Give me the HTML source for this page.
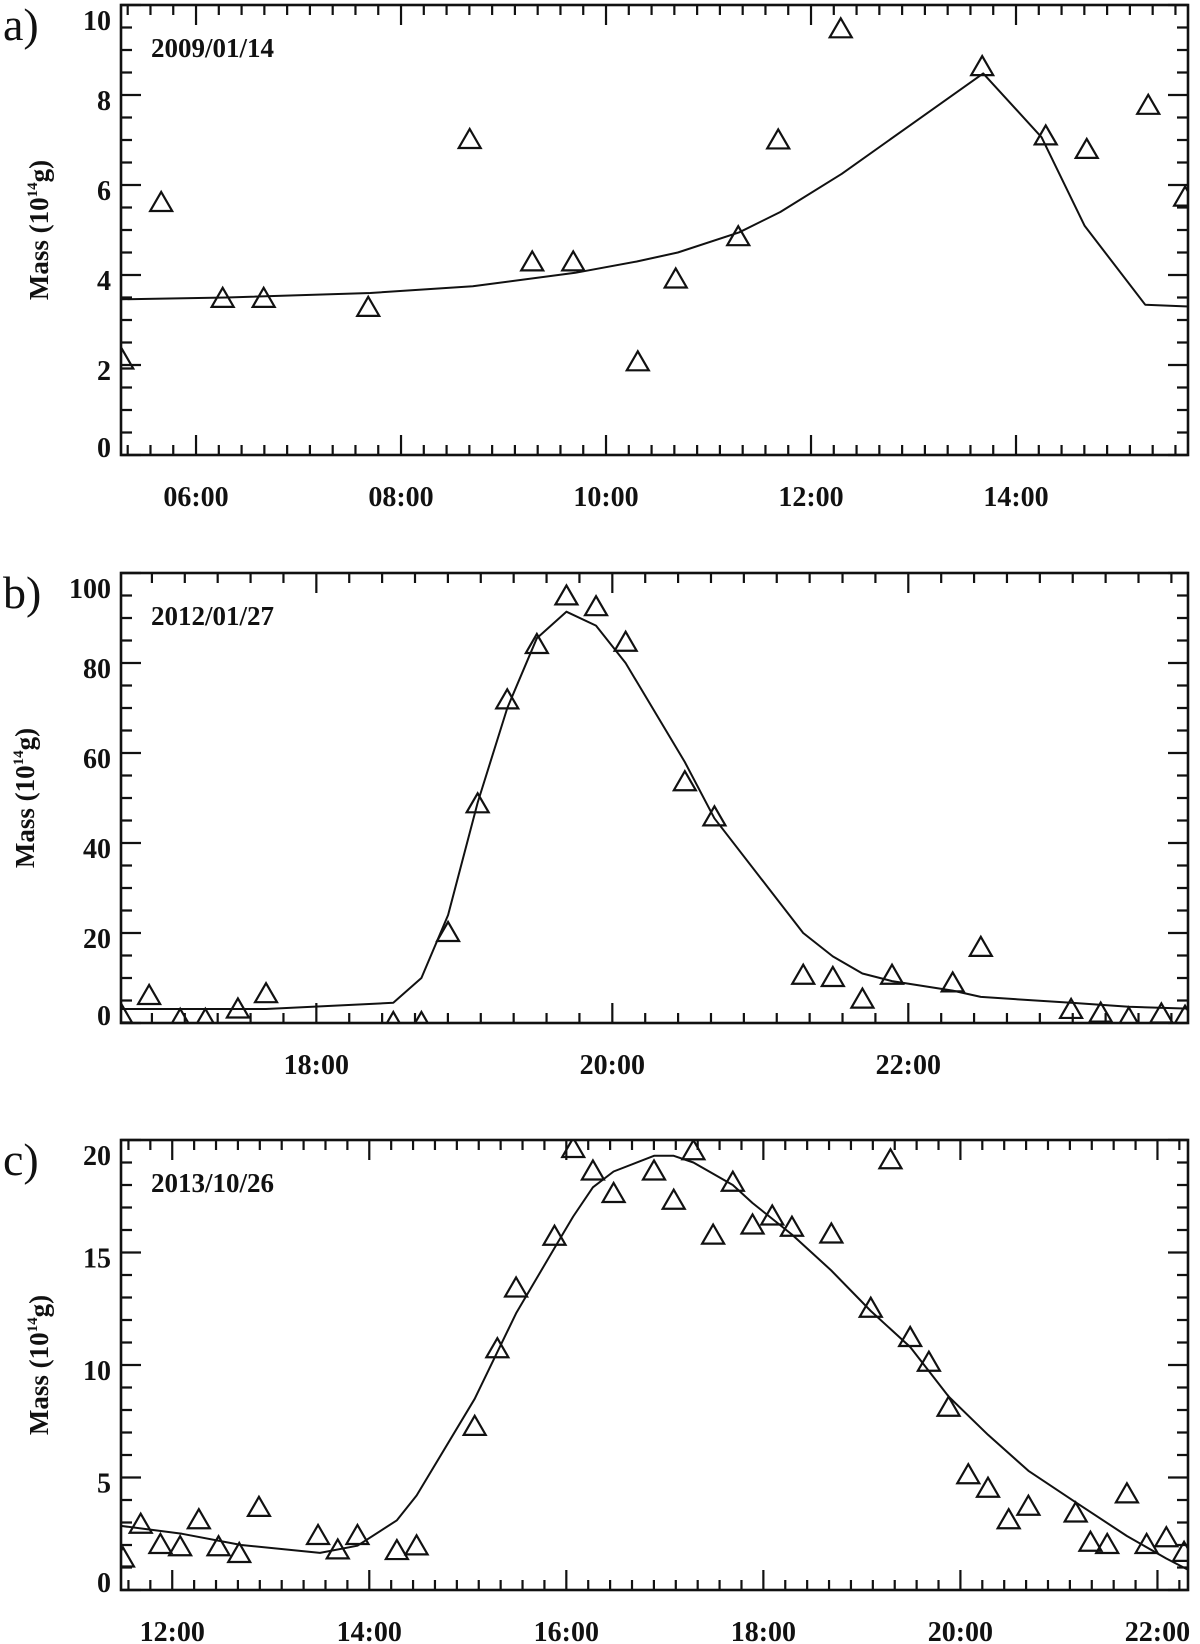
<!DOCTYPE html>
<html><head><meta charset="utf-8"><style>
html,body{margin:0;padding:0;background:#fff;}
svg{display:block;}
text{font-family:"Liberation Serif",serif;fill:#111;}
</style></head><body>
<svg id="fig" width="1200" height="1644" viewBox="0 0 1200 1644" xmlns="http://www.w3.org/2000/svg"></svg>
<script>
// Panel a data (2009/01/14): hours, mass 10^14 g
const aObsT = [5.28,5.66,6.26,6.66,7.68,8.67,9.28,9.68,10.31,10.68,11.29,11.68,12.29,13.67,14.29,14.69,15.29,15.65];
const aObsV = [2.1,5.6,3.47,3.47,3.27,7.0,4.28,4.28,2.06,3.9,4.84,6.99,9.46,8.62,7.08,6.78,7.76,5.72];
const aFitT = [5.27,6.3,7.7,8.7,9.7,10.3,10.7,11.3,11.7,12.3,13.68,14.25,14.67,15.26,15.68];
const aFitV = [3.46,3.5,3.6,3.75,4.05,4.3,4.5,4.95,5.4,6.25,8.48,7.06,5.09,3.34,3.3];
const aYTicks = [0,2,4,6,8,10];
const aXTicks = [6,8,10,12,14];
const aXLabels = ["06:00","08:00","10:00","12:00","14:00"];

// Panel b data (2012/01/27)
const bObsT = [16.68,16.87,17.08,17.25,17.47,17.66,18.52,18.71,18.89,19.09,19.29,19.49,19.69,19.89,20.09,20.49,20.69,21.29,21.49,21.69,21.89,22.30,22.49,23.10,23.30,23.49,23.71,23.87];
const bObsV = [1.9,6,0.7,0.7,3,6.4,0,0,20,48.6,71.7,84,94.8,92.4,84.5,53.5,45.7,10.5,10,5.2,10.5,8.8,16.7,2.9,2.1,1,1.9,1.4];
const bFitT = [16.68,17.66,18.52,18.71,18.89,19.09,19.29,19.49,19.69,19.89,20.09,20.49,20.69,21.29,21.49,21.69,21.89,22.3,22.49,23.1,23.49,23.89];
const bFitV = [3.1,3.1,4.5,10,24,49,70,85.5,91.4,88.3,80,58,45.5,20,14.8,11,9.3,7.2,5.8,4.5,3.6,3.2];
const bYTicks = [0,20,40,60,80,100];
const bXTicks = [18,20,22];
const bXLabels = ["18:00","20:00","22:00"];

// Panel c data (2013/10/26)
const cObsT = [11.50,11.68,11.88,12.08,12.27,12.47,12.68,12.88,13.48,13.68,13.88,14.28,14.48,15.07,15.30,15.49,15.88,16.07,16.27,16.48,16.89,17.09,17.29,17.49,17.69,17.89,18.09,18.29,18.69,19.09,19.29,19.49,19.68,19.88,20.08,20.28,20.49,20.69,21.17,21.32,21.49,21.69,21.89,22.09,22.27];
const cObsV = [1.4,2.9,2.0,1.9,3.1,1.9,1.6,3.65,2.4,1.76,2.4,1.73,1.94,7.25,10.7,13.4,15.7,19.6,18.6,17.6,18.6,17.3,19.5,15.75,18.1,16.2,16.6,16.1,15.8,12.5,19.1,11.2,10.1,8.1,5.1,4.5,3.1,3.7,3.4,2.1,2.0,4.25,2.0,2.3,1.65];
const cFitT = [11.48,12.1,12.7,13.5,13.88,14.28,14.48,15.07,15.49,15.88,16.07,16.27,16.48,16.89,17.09,17.29,17.49,17.69,17.89,18.29,18.69,19.09,19.49,19.88,20.28,20.69,21.17,21.69,22.09,22.31];
const cFitV = [2.85,2.5,2.0,1.65,1.97,3.1,4.2,8.5,12.3,15.2,16.6,17.9,18.6,19.3,19.3,19.0,18.5,18.0,17.2,15.8,14.2,12.4,10.8,8.6,6.9,5.3,3.9,2.4,1.4,0.9];
const cYTicks = [0,5,10,15,20];
const cXTicks = [12,14,16,18,20,22];
const cXLabels = ["12:00","14:00","16:00","18:00","20:00","22:00"];

const NS = "http://www.w3.org/2000/svg";
const svg = document.getElementById("fig");
function mk(tag, attrs, parent){
  const e = document.createElementNS(NS, tag);
  for (const k in attrs) e.setAttribute(k, attrs[k]);
  (parent||svg).appendChild(e);
  return e;
}
const L = 121, R = 1188;

function panel(cfg){
  const g = mk("g", {});
  
  
  const T = cfg.top, B = cfg.top + 450;
  const xs = t => L + (t - cfg.x0) / (cfg.x1 - cfg.x0) * (R - L);
  const ys = v => B - (v - cfg.y0) / (cfg.y1 - cfg.y0) * (B - T);

  const xStep = cfg.xTicks[1] - cfg.xTicks[0];
  const xm = xStep / 9;
  for (let k = -20; k < 200; k++){
    const t = cfg.xTicks[0] + k * xm;
    if (t < cfg.x0 - 1e-6 || t > cfg.x1 + 1e-6) continue;
    const major = Math.abs(k % 9) === 0;
    const len = major ? 20 : 10, x = xs(t);
    const tk = mk("path", {d:`M${x},${B}v${-len}M${x},${T}v${len}`, stroke:"#111", "stroke-width":2.2, fill:"none"}, g);
    
    
  }
  cfg.xTicks.forEach((t,i)=>{
    const tx = mk("text", {x:xs(t), y:B+51, "text-anchor":"middle", "font-size":28, "font-weight":"bold"}, g);
    tx.textContent = cfg.xLabels[i];
    
    
  });
  const yStep = cfg.yTicks[1] - cfg.yTicks[0];
  const ym = yStep / cfg.yMinor;
  for (let k = 0; k * ym <= cfg.y1 - cfg.y0 + 1e-6; k++){
    const v = cfg.y0 + k * ym;
    const major = k % cfg.yMinor === 0;
    const len = major ? 20 : 11, y = ys(v);
    const tk = mk("path", {d:`M${L},${y}h${len}M${R},${y}h${-len}`, stroke:"#111", "stroke-width":2.2, fill:"none"}, g);
    
    
  }
  cfg.yTicks.forEach(v=>{
    let cy = ys(v) + 5;
    cy = Math.max(T + 15, Math.min(B - 8, cy));
    const tx = mk("text", {x:111, y:cy+10, "text-anchor":"end", "font-size":28, "font-weight":"bold"}, g);
    tx.textContent = String(v);
    
    
  });
  const fr = mk("rect", {x:L, y:T, width:R-L, height:B-T, fill:"none", stroke:"#111", "stroke-width":2.6}, g);
  
  

  const cp = mk("clipPath", {id:"clip-"+cfg.id}, g);
  mk("rect", {x:L, y:T, width:R-L, height:B-T}, cp);
  const d = cfg.fitT.map((t,i)=>(i?"L":"M")+xs(t).toFixed(1)+","+ys(cfg.fitV[i]).toFixed(1)).join("");
  const ln = mk("path", {d, fill:"none", stroke:"#111", "stroke-width":2, "stroke-linejoin":"round"}, g);
  
  

  const og = mk("g", {"clip-path":"url(#clip-"+cfg.id+")"}, g);
  
  
  cfg.obsT.forEach((t,i)=>{
    const x = xs(t), y = ys(cfg.obsV[i]);
    const p = mk("path", {d:`M${x-11},${y+8}L${x+11},${y+8}L${x},${y-11}Z`, fill:"none", stroke:"#111", "stroke-width":2.2, "stroke-linejoin":"miter"}, og);
    
    
  });

  const dl = mk("text", {x:151, y:T+52, "font-size":27, "font-weight":"bold"}, g);
  dl.textContent = cfg.date;
  
  
  const pl = mk("text", {x:3, y:T+35, "font-size":46}, g);
  pl.textContent = cfg.id + ")";
  
  
  const cx = cfg.titleX, cy = (T + B) / 2;
  const yt = mk("text", {x:cx, y:cy, transform:`rotate(-90 ${cx} ${cy})`, "text-anchor":"middle", "font-size":27, "font-weight":"bold"}, g);
  
  
  const s1 = mk("tspan", {}, yt); s1.textContent = "Mass (10";
  const s2 = mk("tspan", {"font-size":15, dy:-11}, yt); s2.textContent = "14";
  const s3 = mk("tspan", {dy:11}, yt); s3.textContent = "g)";
}

panel({id:"a", top:5, x0:5.268, x1:15.678, y0:0, y1:10, yMinor:4, yTicks:aYTicks, xTicks:aXTicks, xLabels:aXLabels, obsT:aObsT, obsV:aObsV, fitT:aFitT, fitV:aFitV, date:"2009/01/14", titleX:48});
panel({id:"b", top:573, x0:16.68, x1:23.89, y0:0, y1:100, yMinor:4, yTicks:bYTicks, xTicks:bXTicks, xLabels:bXLabels, obsT:bObsT, obsV:bObsV, fitT:bFitT, fitV:bFitV, date:"2012/01/27", titleX:34});
panel({id:"c", top:1140, x0:11.48, x1:22.31, y0:0, y1:20, yMinor:5, yTicks:cYTicks, xTicks:cXTicks, xLabels:cXLabels, obsT:cObsT, obsV:cObsV, fitT:cFitT, fitV:cFitV, date:"2013/10/26", titleX:48});
</script>
</body></html>
